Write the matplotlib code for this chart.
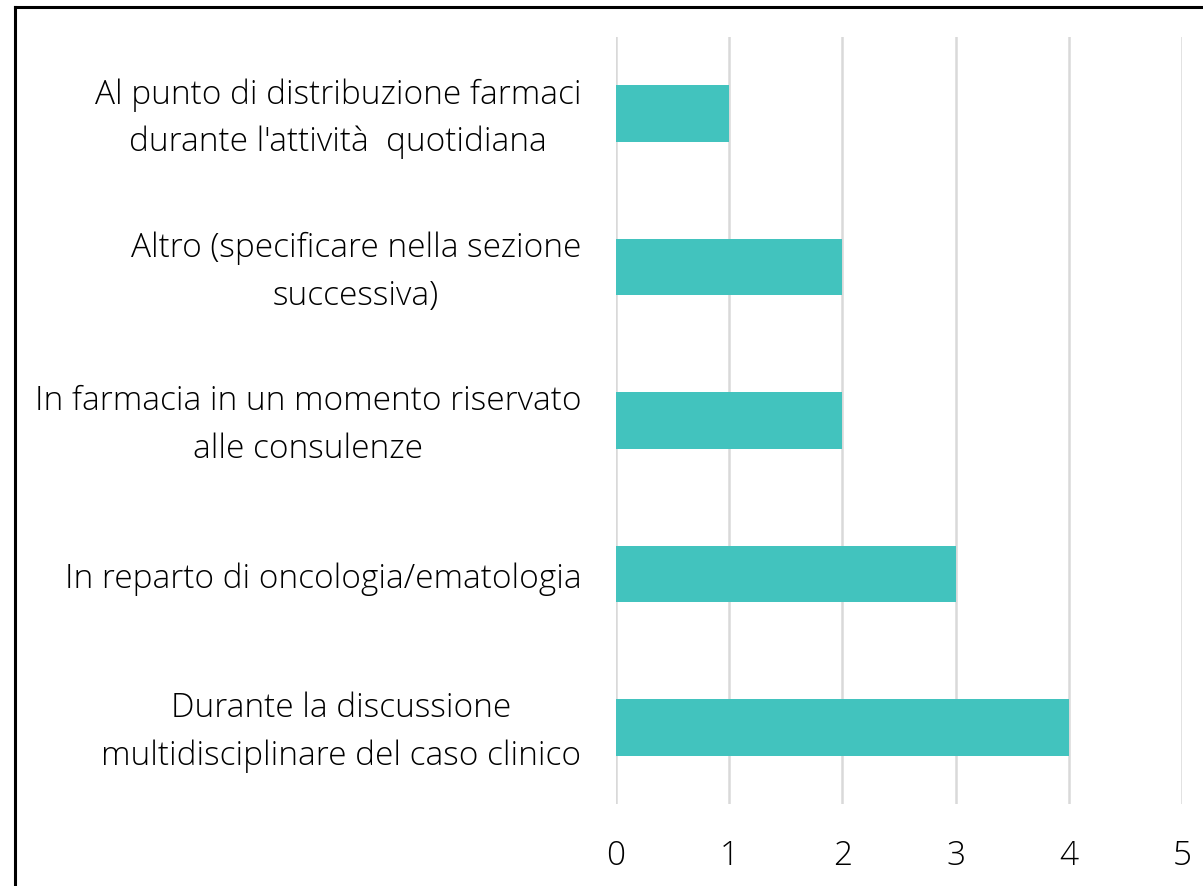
import numpy as np
import matplotlib.pyplot as plt
import matplotlib.transforms as mtransforms
from matplotlib.lines import Line2D

# categories listed top to bottom
categories = [
    "Al punto di distribuzione farmaci\ndurante l'attività  quotidiana",
    "Altro (specificare nella sezione\nsuccessiva)",
    "In farmacia in un momento riservato\nalle consulenze",
    "In reparto di oncologia/ematologia",
    "Durante la discussione\nmultidisciplinare del caso clinico",
]
values = [1, 2, 2, 3, 4]
xticks = [0, 1, 2, 3, 4, 5]

plt.rcParams['font.family'] = ['Open Sans', 'DejaVu Sans']

fig = plt.figure(figsize=(12.03, 8.87), dpi=100)
ax = fig.add_axes([0.512, 0.0924, 0.4705, 0.8648])

y = np.arange(len(categories))
ax.barh(y, values, height=0.37, color='#42C3BE', zorder=3)
ax.set_ylim(len(categories) - 0.5, -0.5)
ax.set_xlim(0, 5)

ax.set_xticks(xticks)
ax.set_xticklabels([str(t) for t in xticks], fontsize=24, fontweight='light')
ax.set_yticks(y)
ax.set_yticklabels(categories, fontsize=24, fontweight='light',
                   ha='right', va='center', multialignment='center',
                   linespacing=1.55)
ax.tick_params(axis='both', length=0, colors='#000000')
ax.tick_params(axis='x', pad=25)
ax.tick_params(axis='y', pad=25)

# nudge category labels down a few pixels
shift = mtransforms.ScaledTranslation(0, -4 / 100, fig.dpi_scale_trans)
for lbl in ax.get_yticklabels():
    lbl.set_transform(lbl.get_transform() + shift)

ax.grid(axis='x', color='#D9D9D9', linewidth=1.8, zorder=0)
for s in ax.spines.values():
    s.set_visible(False)

# outer frame (right and bottom edges fall outside the image)
fig.add_artist(Line2D([15 / 1203, 15 / 1203], [0, 1 - 8 / 887],
                      transform=fig.transFigure, color='black', linewidth=2.2))
fig.add_artist(Line2D([15 / 1203, 1], [1 - 8 / 887, 1 - 8 / 887],
                      transform=fig.transFigure, color='black', linewidth=2.2))

fig.savefig('out.png', dpi=100)
